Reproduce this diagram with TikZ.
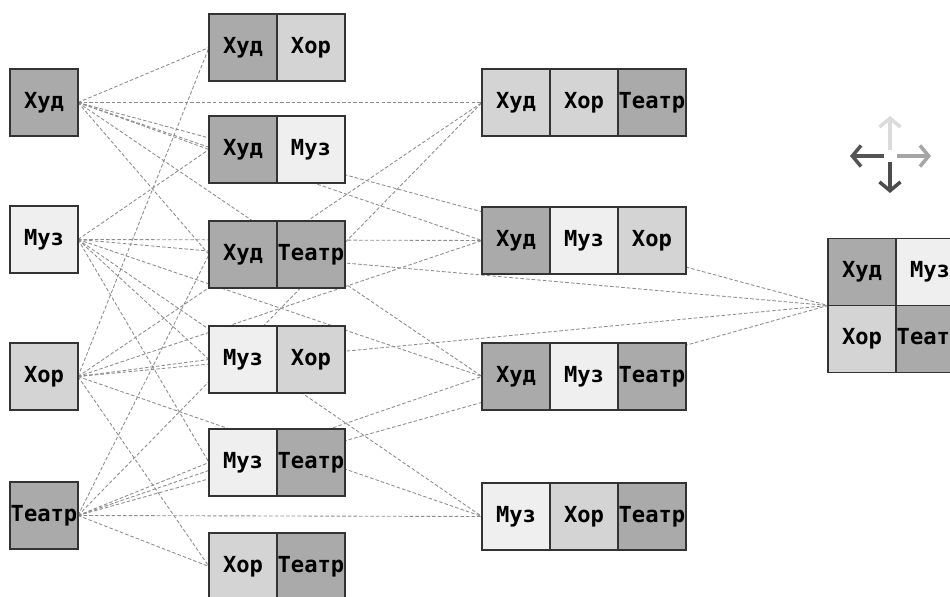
\documentclass[tikz,border=0pt]{standalone}
\usepackage{fontspec}
\setmonofont{DejaVu Sans Mono}
\usetikzlibrary{positioning,backgrounds,arrows.meta}
\definecolor{dk}{HTML}{AAAAAA}
\definecolor{md}{HTML}{D4D4D4}
\definecolor{lt}{HTML}{EFEFEF}
\definecolor{rim}{HTML}{333333}
\definecolor{wire}{HTML}{8C8C8C}
\tikzset{
	cell/.style={draw=rim, line width=0.9pt, minimum width=1.36cm, minimum height=1.34cm,
		inner sep=0pt, outer sep=0pt, font=\ttfamily\bfseries\fontsize{12.6}{15}\selectfont},
	link/.style={draw=wire, line width=0.5pt, dash pattern=on 2pt off 1.2pt},
	icon/.style={line width=2pt, -{Straight Barb[length=5pt,width=12pt]}},
}

\begin{document}
\begin{tikzpicture}[x=0.02cm, y=-0.02cm]
			%%%%% START %%%%%
			\useasboundingbox (0, 0) rectangle (950, 597);
			
			% singles
			\node[cell, fill=dk] (hud) at (44, 102.5) {Худ};
			\node[cell, fill=lt] (muz) at (44, 239.5) {Муз};
			\node[cell, fill=md] (hor) at (44, 376.5) {Хор};
			\node[cell, fill=dk] (teatr) at (44, 515.5) {Театр};
			
			% pairs
			\node[cell, fill=dk] (p1a) at (243, 47.5) {Худ};
			\node[cell, fill=md, right=0pt of p1a] (p1b) {Хор};
			\node[cell, fill=dk] (p2a) at (243, 149.5) {Худ};
			\node[cell, fill=lt, right=0pt of p2a] (p2b) {Муз};
			\node[cell, fill=dk] (p3a) at (243, 254.5) {Худ};
			\node[cell, fill=dk, right=0pt of p3a] (p3b) {Театр};
			\node[cell, fill=lt] (p4a) at (243, 359.5) {Муз};
			\node[cell, fill=md, right=0pt of p4a] (p4b) {Хор};
			\node[cell, fill=lt] (p5a) at (243, 462.5) {Муз};
			\node[cell, fill=dk, right=0pt of p5a] (p5b) {Театр};
			\node[cell, fill=md] (p6a) at (243, 566.5) {Хор};
			\node[cell, fill=dk, right=0pt of p6a] (p6b) {Театр};
			
			% triples
			\node[cell, fill=md] (t1a) at (516, 102.5) {Худ};
			\node[cell, fill=md, right=0pt of t1a] (t1b) {Хор};
			\node[cell, fill=dk, right=0pt of t1b] (t1c) {Театр};
			\node[cell, fill=dk] (t2a) at (516, 240.5) {Худ};
			\node[cell, fill=lt, right=0pt of t2a] (t2b) {Муз};
			\node[cell, fill=md, right=0pt of t2b] (t2c) {Хор};
			\node[cell, fill=dk] (t3a) at (516, 376.5) {Худ};
			\node[cell, fill=lt, right=0pt of t3a] (t3b) {Муз};
			\node[cell, fill=dk, right=0pt of t3b] (t3c) {Театр};
			\node[cell, fill=lt] (t4a) at (516, 516.5) {Муз};
			\node[cell, fill=md, right=0pt of t4a] (t4b) {Хор};
			\node[cell, fill=dk, right=0pt of t4b] (t4c) {Театр};
			
			% all four
			\node[cell, fill=dk] (f1) at (862, 272) {Худ};
			\node[cell, fill=lt, right=0pt of f1] (f2) {Муз};
			\node[cell, fill=md, below=0pt of f1] (f3) {Хор};
			\node[cell, fill=dk, right=0pt of f3] (f4) {Театр};
			
			% links, behind the boxes
			\begin{scope}[on background layer]
			\draw[link] (hud.east) -- (p1a.west);
			\draw[link] (hud.east) -- (p2a.west);
			\draw[link] (hud.east) -- (p3a.west);
			\draw[link] (hud.east) -- (t1a.west);
			\draw[link] (hud.east) -- (t2a.west);
			\draw[link] (hud.east) -- (t3a.west);
			\draw[link] (hud.east) -- (f1.south west);
			
			\draw[link] (muz.east) -- (p2a.west);
			\draw[link] (muz.east) -- (p4a.west);
			\draw[link] (muz.east) -- (p5a.west);
			\draw[link] (muz.east) -- (t2a.west);
			\draw[link] (muz.east) -- (t3a.west);
			\draw[link] (muz.east) -- (t4a.west);
			\draw[link] (muz.east) -- (f1.south west);
			
			\draw[link] (hor.east) -- (p1a.west);
			\draw[link] (hor.east) -- (p4a.west);
			\draw[link] (hor.east) -- (p6a.west);
			\draw[link] (hor.east) -- (t1a.west);
			\draw[link] (hor.east) -- (t2a.west);
			\draw[link] (hor.east) -- (t4a.west);
			\draw[link] (hor.east) -- (f1.south west);
			
			\draw[link] (teatr.east) -- (p3a.west);
			\draw[link] (teatr.east) -- (p5a.west);
			\draw[link] (teatr.east) -- (p6a.west);
			\draw[link] (teatr.east) -- (t1a.west);
			\draw[link] (teatr.east) -- (t3a.west);
			\draw[link] (teatr.east) -- (t4a.west);
			\draw[link] (teatr.east) -- (f1.south west);
			\end{scope}
			
			% move icon
			\coordinate (mid) at (890, 156);
			\draw[icon, color=black!14] (mid) ++(0, -6) -- ++(0, -34);
			\draw[icon, color=black!67] (mid) ++(-6, 0) -- ++(-34, 0);
			\draw[icon, color=black!35] (mid) ++(7, 0) -- ++(34, 0);
			\draw[icon, color=black!70] (mid) ++(0, 6) -- ++(0, 31);
			
			%%%%% END %%%%%
\end{tikzpicture}
\end{document}
